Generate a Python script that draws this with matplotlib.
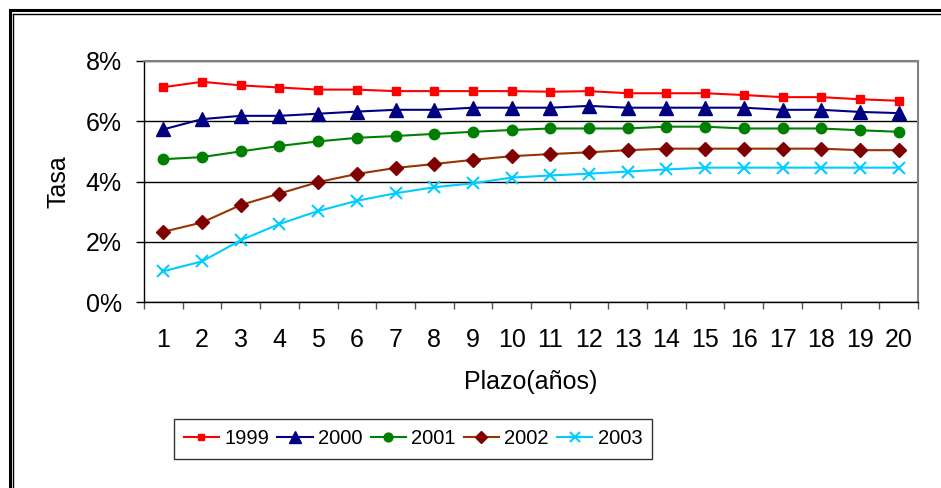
import matplotlib.pyplot as plt
from matplotlib.lines import Line2D

plt.rcParams['font.family'] = ['Liberation Sans', 'DejaVu Sans']

plazo = list(range(1, 21))

y1999 = [7.13, 7.31, 7.19, 7.12, 7.05, 7.05, 7.00, 7.00, 7.00, 7.00,
         6.98, 7.00, 6.93, 6.93, 6.93, 6.87, 6.80, 6.80, 6.73, 6.68]
y2000 = [5.73, 6.07, 6.18, 6.18, 6.25, 6.32, 6.38, 6.38, 6.45, 6.45,
         6.45, 6.51, 6.45, 6.45, 6.45, 6.45, 6.38, 6.38, 6.31, 6.27]
y2001 = [4.74, 4.81, 5.00, 5.18, 5.33, 5.45, 5.51, 5.58, 5.65, 5.71,
         5.76, 5.76, 5.76, 5.82, 5.82, 5.76, 5.76, 5.76, 5.70, 5.65]
y2002 = [2.33, 2.64, 3.22, 3.60, 3.98, 4.25, 4.45, 4.58, 4.72, 4.84,
         4.91, 4.97, 5.04, 5.09, 5.09, 5.09, 5.09, 5.09, 5.04, 5.04]
y2003 = [1.02, 1.35, 2.05, 2.59, 3.02, 3.36, 3.61, 3.81, 3.94, 4.13,
         4.20, 4.26, 4.33, 4.40, 4.46, 4.46, 4.46, 4.46, 4.46, 4.46]

FS = 18
W, H = 941, 488
fig = plt.figure(figsize=(W / 100, H / 100), dpi=100)
ax = fig.add_axes([144 / W, 1 - 302 / H, (918 - 144) / W, (302 - 61) / H])

ax.plot(plazo, y1999, color='#FF0000', lw=1.5, marker='s', ms=5.5, label='1999')
ax.plot(plazo, y2000, color='#000080', lw=1.5, marker='^', ms=9.5, label='2000')
ax.plot(plazo, y2001, color='#008000', lw=1.5, marker='o', ms=7.5, label='2001')
ax.plot(plazo, y2002, color='#993300', lw=1.5, marker='D', ms=7,
        mfc='#800000', mec='#800000', label='2002')
ax.plot(plazo, y2003, color='#00CCFF', lw=1.5, marker='x', ms=8, mew=1.5, label='2003')

ax.set_xlim(0.5, 20.5)
ax.set_ylim(0, 8)
ax.set_yticks([0, 2, 4, 6, 8])
ax.set_yticklabels([f'{v}%' for v in [0, 2, 4, 6, 8]])
ax.set_xticks(plazo)
ax.set_xticks([i + 0.5 for i in range(0, 21)], minor=True)
ax.tick_params(axis='x', which='major', length=0, pad=19, labelsize=FS)
ax.tick_params(axis='x', which='minor', length=5, width=1, color='#555555')
ax.tick_params(axis='y', length=6, width=1, pad=10, labelsize=FS)
ax.grid(axis='y', color='black', lw=1)
ax.set_axisbelow(True)

for s in ['top', 'right']:
    ax.spines[s].set_color('#808080')
    ax.spines[s].set_linewidth(1.5)
for s in ['left', 'bottom']:
    ax.spines[s].set_color('black')
    ax.spines[s].set_linewidth(1)

ax.set_ylabel('Tasa', fontsize=FS)
ax.yaxis.set_label_coords((58 - 144) / 774, 0.5)
ax.set_xlabel('Plazo(años)', fontsize=FS)
ax.xaxis.set_label_coords((531 - 144) / 774, (302 - 382) / 241)
ax.xaxis.label.set_va('center')
ax.yaxis.label.set_va('center')

leg = fig.legend(loc='center', bbox_to_anchor=(413 / W, 1 - 439 / H), ncol=5,
                 fontsize=14.5, frameon=True, fancybox=False, edgecolor='black',
                 handlelength=1.75, handletextpad=0.27, columnspacing=0.4,
                 borderpad=0.5, markerscale=0.85)
leg.get_frame().set_linewidth(1)

# double border on the left and top of the picture
def px(x, y):
    return x / W, 1 - y / H

for (xa, ya), (xb, yb), lw in [((9.5, H), (9.5, 10.2), 2.2), ((9.5, 10.2), (W, 10.2), 2.2),
                               ((13, H), (13, 14), 1.0), ((13, 14), (W, 14), 1.0)]:
    p0, p1 = px(xa, ya), px(xb, yb)
    fig.add_artist(Line2D([p0[0], p1[0]], [p0[1], p1[1]], color='black', lw=lw,
                          transform=fig.transFigure))

fig.savefig('out.png', dpi=100)
